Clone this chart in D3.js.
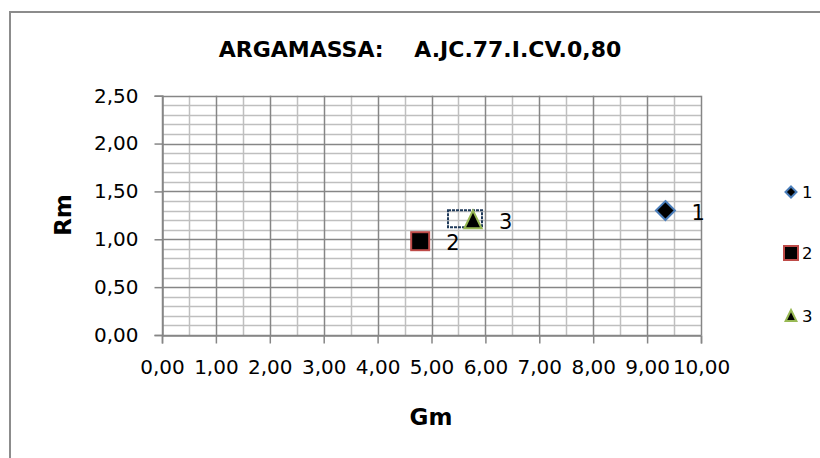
<!DOCTYPE html>
<html>
<head>
<meta charset="utf-8">
<script src="https://cdn.jsdelivr.net/npm/d3@7"></script>
<style>
  html, body { margin: 0; padding: 0; background: #fff; }
  svg { display: block; }
  text { fill: #000; }
</style>
</head>
<body>
<svg id="chart" width="820" height="458"></svg>
<script>
// Series data: one point per specimen (Gm, Rm)
const seriesNames = ["1", "2", "3"];
const gmValues = [9.34, 4.79, 5.77];
const rmValues = [1.30, 0.98, 1.20];
const seriesSymbols = ["diamond", "square", "triangle"];
const seriesStroke = ["#4a7ebb", "#be4b48", "#98b954"];

const xTicks = [0, 1, 2, 3, 4, 5, 6, 7, 8, 9, 10];
const yTicks = [0, 0.5, 1.0, 1.5, 2.0, 2.5];

const chartTitle = "ARGAMASSA:    A.JC.77.I.CV.0,80";
const xTitle = "Gm";
const yTitle = "Rm";

const FONT = "'DejaVu Sans', sans-serif";
const svg = d3.select("#chart");

// Outer chart frame (runs off the right and bottom edges)
svg.append("rect")
  .attr("x", 10).attr("y", 12)
  .attr("width", 840).attr("height", 500)
  .attr("fill", "none").attr("stroke", "#8c8c8c").attr("stroke-width", 2);

const x = d3.scaleLinear().domain([0, 10]).range([162, 701]);
const y = d3.scaleLinear().domain([0, 2.5]).range([335, 95.7]);

const fmt = v => d3.format(".2f")(v).replace(".", ",");
const px = v => Math.round(v) + 0.5;

// Minor gridlines
const grid = svg.append("g");
d3.range(1, 25).filter(k => k % 5 !== 0).forEach(k => {
  const v = k / 10;
  grid.append("line")
    .attr("x1", x(0)).attr("x2", x(10))
    .attr("y1", px(y(v))).attr("y2", px(y(v)))
    .attr("stroke", "#bfbfbf").attr("stroke-width", 1.5);
});
d3.range(0.5, 10, 1).forEach(v => {
  grid.append("line")
    .attr("x1", px(x(v))).attr("x2", px(x(v)))
    .attr("y1", y(0)).attr("y2", y(2.5))
    .attr("stroke", "#bfbfbf").attr("stroke-width", 1.5);
});
// Major gridlines
yTicks.forEach(v => {
  grid.append("line")
    .attr("x1", x(0)).attr("x2", x(10))
    .attr("y1", px(y(v))).attr("y2", px(y(v)))
    .attr("stroke", "#868686").attr("stroke-width", 1.5);
});
xTicks.forEach(v => {
  grid.append("line")
    .attr("x1", px(x(v))).attr("x2", px(x(v)))
    .attr("y1", y(0)).attr("y2", y(2.5))
    .attr("stroke", "#868686").attr("stroke-width", 1.5);
});

// Axes
const xAxis = svg.append("g")
  .attr("transform", `translate(0,${px(y(0))})`)
  .call(d3.axisBottom(x).tickValues(xTicks).tickFormat(fmt).tickSize(8).tickPadding(16));
const yAxis = svg.append("g")
  .attr("transform", `translate(${px(x(0))},0)`)
  .call(d3.axisLeft(y).tickValues(yTicks).tickFormat(fmt).tickSize(8).tickPadding(16));
[xAxis, yAxis].forEach(a => {
  a.select(".domain").attr("stroke", "#868686").attr("stroke-width", 1.5);
  a.selectAll(".tick line").attr("stroke", "#868686").attr("stroke-width", 1.5);
  a.selectAll(".tick text")
    .style("font-family", FONT).style("font-size", "20px").attr("fill", "#000");
});

// Titles
svg.append("text")
  .attr("x", 420).attr("y", 57)
  .attr("text-anchor", "middle")
  .style("font-family", FONT).style("font-size", "22px").style("font-weight", "bold")
  .style("white-space", "pre")
  .text(chartTitle);
svg.append("text")
  .attr("x", 431).attr("y", 425)
  .attr("text-anchor", "middle")
  .style("font-family", FONT).style("font-size", "23px").style("font-weight", "bold")
  .text(xTitle);
svg.append("text")
  .attr("transform", "translate(71,215) rotate(-90)")
  .attr("text-anchor", "middle")
  .style("font-family", FONT).style("font-size", "23px").style("font-weight", "bold")
  .text(yTitle);

// Marker shapes: rhombus drawn as a rotated square
function marker(sel, kind, s) {
  if (kind === "diamond") {
    sel.append("path").attr("d", `M0,${-s}L${s},0L0,${s}L${-s},0Z`);
  } else if (kind === "square") {
    sel.append("rect").attr("x", -s).attr("y", -s).attr("width", 2 * s).attr("height", 2 * s);
  } else {
    sel.append("path").attr("d", `M0,${-s}L${s * 0.9},${s * 0.85}L${-s * 0.9},${s * 0.85}Z`);
  }
}
const markerSize = { diamond: 9.5, square: 9, triangle: 9.5 };
const legendMarkerSize = { diamond: 5.5, square: 7, triangle: 6 };

// Label selection frame around point 3's marker
svg.append("rect")
  .attr("x", x(gmValues[2]) - 25).attr("y", y(rmValues[2]) - 10)
  .attr("width", 34).attr("height", 17)
  .attr("fill", "none").attr("stroke", "#1f3a5a").attr("stroke-width", 2)
  .attr("stroke-dasharray", "3,1");

// Points and data labels
const pts = svg.append("g");
seriesNames.forEach((name, i) => {
  const g = pts.append("g")
    .attr("transform", `translate(${x(gmValues[i])},${y(rmValues[i])})`)
    .attr("fill", "#000").attr("stroke", seriesStroke[i]).attr("stroke-width", 2);
  marker(g, seriesSymbols[i], markerSize[seriesSymbols[i]]);
  pts.append("text")
    .attr("x", x(gmValues[i]) + 26).attr("y", y(rmValues[i]) + 9)
    .style("font-family", FONT).style("font-size", "21px")
    .text(name);
});

// Legend
const legend = svg.append("g");
const legendY = [192, 253, 316];
seriesNames.forEach((name, i) => {
  const g = legend.append("g")
    .attr("transform", `translate(791,${legendY[i]})`)
    .attr("fill", "#000").attr("stroke", seriesStroke[i]).attr("stroke-width", 2);
  marker(g, seriesSymbols[i], legendMarkerSize[seriesSymbols[i]]);
  legend.append("text")
    .attr("x", 802).attr("y", legendY[i] + 6)
    .style("font-family", FONT).style("font-size", "16.5px")
    .text(name);
});
</script>
</body>
</html>
